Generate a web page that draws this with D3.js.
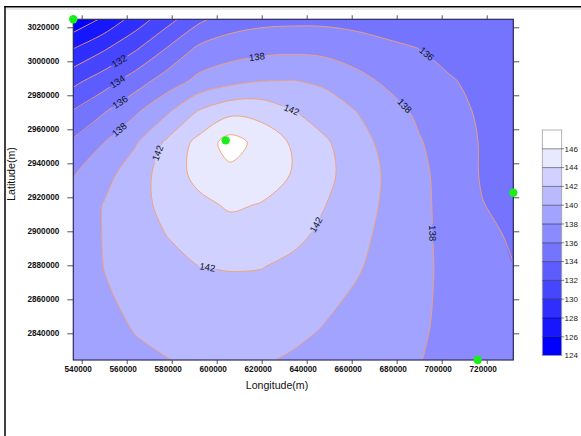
<!DOCTYPE html>
<html><head><meta charset="utf-8">
<script src="https://cdn.jsdelivr.net/npm/d3@7"></script>
<style>body{margin:0;background:#fff} svg{display:block}</style>
</head><body><svg id="c" width="581" height="436"></svg>
<script>
// ---------- data ----------
const gridLon = [536000, 550000, 564000, 578000, 592000, 606000, 620000, 634000, 648000, 662000, 676000, 690000, 704000, 718000, 732000];
const gridLat = [3025000, 3006750, 2988500, 2970250, 2952000, 2933750, 2915500, 2897250, 2879000, 2860750, 2842500, 2824250];
const gridValues = [
  [124.3, 126.3, 128.8, 131.2, 133.5, 135.0, 135.4, 135.5, 135.5, 135.3, 135.0, 134.7, 134.5, 134.4, 134.3],
  [128.1, 129.9, 131.9, 134.25, 136.5, 137.1, 137.5, 137.65, 137.5, 137.05, 136.5, 136.05, 135.4, 134.9, 134.6],
  [131.4, 133.1, 135.05, 136.95, 138.5, 139.4, 139.95, 140.05, 139.65, 138.6, 137.65, 136.9, 136.13, 135.5, 134.8],
  [134.15, 135.9, 137.75, 139.75, 142.2, 143.5, 143.35, 142.1, 141.05, 140.02, 138.8, 137.65, 136.65, 135.7, 135.0],
  [136.3, 138.02, 139.85, 142.4, 144.6, 146.9, 145.25, 143.75, 142.3, 140.8, 139.4, 138.15, 137.0, 135.85, 135.15],
  [137.85, 139.35, 141.05, 142.9, 144.6, 145.45, 144.9, 143.9, 142.5, 141.1, 139.7, 138.45, 137.15, 135.85, 135.35],
  [138.5, 140.1, 141.4, 142.5, 143.5, 144.25, 143.9, 143.0, 142.05, 140.85, 139.65, 138.5, 137.25, 136.05, 135.55],
  [138.8, 140.1, 141.05, 142.02, 143.05, 143.15, 142.9, 142.45, 141.55, 140.5, 139.5, 138.45, 137.4, 136.4, 135.8],
  [139.0, 140.03, 140.65, 141.3, 141.97, 142.1, 142.05, 141.55, 140.85, 140.2, 139.3, 138.4, 137.55, 136.75, 136.02],
  [139.0, 139.8, 140.4, 140.9, 141.25, 141.4, 141.3, 140.95, 140.4, 139.75, 139.0, 138.3, 137.6, 136.95, 136.35],
  [138.9, 139.4, 140.1, 140.55, 140.85, 140.95, 140.85, 140.5, 139.9, 139.35, 138.75, 138.2, 137.6, 137.1, 136.6],
  [138.7, 139.2, 139.6, 139.95, 140.35, 140.5, 140.2, 139.75, 139.3, 138.9, 138.45, 138.05, 137.55, 137.2, 136.85]
];
const levels = [124, 126, 128, 130, 132, 134, 136, 138, 140, 142, 144, 146];
const bandTop = 148;
const stationLon = [536270, 604000, 731820, 716000];
const stationLat = [3024700, 2953500, 2922700, 2824300];
const lonTicks = [540000, 560000, 580000, 600000, 620000, 640000, 660000, 680000, 700000, 720000];
const latTicks = [2840000, 2860000, 2880000, 2900000, 2920000, 2940000, 2960000, 2980000, 3000000, 3020000];
const labelLevels = [132, 134, 136, 138, 142, 138, 142, 136, 138, 142, 138, 142];
const labelLon = [557000, 556100, 557000, 556100, 573500, 617900, 633500, 693500, 683700, 645200, 695200, 595800];
const labelLat = [2999600, 2987800, 2976100, 2960800, 2946100, 3001900, 2972500, 3004500, 2974200, 2903100, 2898800, 2878600];
const xTitle = "Longitude(m)";
const yTitle = "Latitude(m)";

// ---------- layout ----------
const W = 581, H = 436;
const plot = {left: 73.3, right: 513.3, top: 19.3, bottom: 360};
const FONT = "'Liberation Sans', Arial, sans-serif";
const svg = d3.select("#c");
svg.append("rect").attr("width", W).attr("height", H).attr("fill", "#fff");
const defs = svg.append("defs");
defs.append("clipPath").attr("id", "plotClip").append("rect")
  .attr("x", plot.left).attr("y", plot.top)
  .attr("width", plot.right - plot.left).attr("height", plot.bottom - plot.top);
defs.append("clipPath").attr("id", "frameClip").append("rect")
  .attr("x", 6).attr("y", 8).attr("width", W).attr("height", H);

const x = d3.scaleLinear().domain(d3.extent(stationLon)).range([plot.left, plot.right]);
const y = d3.scaleLinear().domain(d3.extent(stationLat)).range([plot.bottom, plot.top]);
const fillColor = d3.scaleLinear().domain([levels[0], levels[levels.length - 1]]).range(["#0000ff", "#ffffff"]);

// ---------- contours ----------
const nx = gridLon.length, ny = gridLat.length;
const contours = d3.contours().size([nx, ny]).thresholds(levels)(gridValues.flat());
const lonStep = (gridLon[nx - 1] - gridLon[0]) / (nx - 1);
const latStep = (gridLat[ny - 1] - gridLat[0]) / (ny - 1);
const toPx = p => [x(gridLon[0] + (p[0] - 0.5) * lonStep), y(gridLat[0] + (p[1] - 0.5) * latStep)];
const closedLine = d3.line().curve(d3.curveCatmullRomClosed.alpha(0.5));
const openLine = d3.line().curve(d3.curveCatmullRom.alpha(0.5));

const gFill = svg.append("g").attr("clip-path", "url(#plotClip)");
contours.forEach(c => {
  let d = "";
  c.coordinates.forEach(poly => poly.forEach(ring => { d += closedLine(ring.slice(0, -1).map(toPx)); }));
  gFill.append("path").attr("d", d).attr("fill", fillColor(c.value)).attr("fill-rule", "evenodd");
});

// label mask
const mask = defs.append("mask").attr("id", "labelMask").attr("maskUnits", "userSpaceOnUse")
  .attr("x", 0).attr("y", 0).attr("width", W).attr("height", H);
mask.append("rect").attr("width", W).attr("height", H).attr("fill", "#fff");

const gLines = svg.append("g").attr("clip-path", "url(#plotClip)").append("g").attr("mask", "url(#labelMask)");
const isBorder = p => p[0] === 0 || p[0] === nx || p[1] === 0 || p[1] === ny;
const linePaths = [];
function addPath(d, level) {
  const node = gLines.append("path").attr("d", d).attr("fill", "none")
    .attr("stroke", "#f4a06c").attr("stroke-width", 0.9).node();
  linePaths.push({node, level});
}
contours.forEach(c => {
  if (c.value === levels[0]) return;
  c.coordinates.forEach(poly => poly.forEach(ring => {
    const pts = ring.slice(0, -1);
    const b = pts.findIndex(isBorder);
    if (b < 0) { addPath(closedLine(pts.map(toPx)), c.value); return; }
    const rot = pts.slice(b).concat(pts.slice(0, b));
    let run = [];
    rot.forEach(p => {
      if (isBorder(p)) { if (run.length > 1) addPath(openLine(run.map(toPx)), c.value); run = []; }
      else run.push(p);
    });
    if (run.length > 1) addPath(openLine(run.map(toPx)), c.value);
  }));
});

// contour labels
const gLab = svg.append("g").attr("clip-path", "url(#plotClip)");
labelLevels.forEach((lev, i) => {
  const px = x(labelLon[i]), py = y(labelLat[i]);
  let best = null;
  linePaths.filter(p => p.level === lev).forEach(({node}) => {
    const L = node.getTotalLength();
    for (let l = 0; l <= L; l += 0.5) {
      const pt = node.getPointAtLength(l);
      const dd = (pt.x - px) ** 2 + (pt.y - py) ** 2;
      if (!best || dd < best.dd) best = {dd, node, l, L, pt};
    }
  });
  let cx = px, cyy = py, ang = 0;
  if (best) {
    const a = best.node.getPointAtLength(Math.max(0, best.l - 3));
    const b = best.node.getPointAtLength(Math.min(best.L, best.l + 3));
    ang = Math.atan2(b.y - a.y, b.x - a.x) * 180 / Math.PI;
    if (ang > 90) ang -= 180;
    if (ang <= -90) ang += 180;
    cx = best.pt.x; cyy = best.pt.y;
  }
  const t = gLab.append("text").attr("transform", `translate(${cx},${cyy}) rotate(${ang})`)
    .attr("text-anchor", "middle").attr("dy", "0.35em")
    .attr("font-family", FONT).attr("font-size", 9.5).attr("fill", "#111").text(lev);
  const w = t.node().getComputedTextLength() + 3;
  mask.append("rect").attr("x", -w / 2).attr("y", -5).attr("width", w).attr("height", 10)
    .attr("transform", `translate(${cx},${cyy}) rotate(${ang})`).attr("fill", "#000");
});

// ---------- axes ----------
function styleAxis(g) {
  g.select(".domain").remove();
  g.selectAll("line").attr("stroke", "#555");
  g.selectAll("text").attr("font-family", FONT).attr("font-size", 8.2).attr("font-weight", "bold").attr("fill", "#111");
}
svg.append("g").attr("transform", `translate(${plot.left},0)`)
  .call(d3.axisLeft(y).tickValues(latTicks).tickFormat(d3.format("d")).tickSize(6).tickPadding(8)).call(styleAxis);
svg.append("g").attr("transform", `translate(${plot.right},0)`)
  .call(d3.axisRight(y).tickValues(latTicks).tickFormat("").tickSize(6)).call(styleAxis);
svg.append("g").attr("transform", `translate(0,${plot.top})`)
  .call(d3.axisTop(x).tickValues(lonTicks).tickFormat("").tickSize(4)).call(styleAxis);
svg.append("g").attr("transform", `translate(0,${plot.bottom})`)
  .call(d3.axisBottom(x).tickValues(lonTicks).tickFormat(d3.format("d")).tickSize(4).tickPadding(2.5)).call(styleAxis)
  .call(g => g.selectAll("text").attr("dx", -4));

svg.append("rect").attr("x", plot.left).attr("y", plot.top)
  .attr("width", plot.right - plot.left).attr("height", plot.bottom - plot.top)
  .attr("fill", "none").attr("stroke", "#2e2e5e").attr("stroke-width", 1.2);

svg.append("text").attr("x", 277).attr("y", 388.7).attr("text-anchor", "middle")
  .attr("font-family", FONT).attr("font-size", 10.6).attr("fill", "#111").text(xTitle);
svg.append("g").attr("clip-path", "url(#frameClip)").append("text")
  .attr("transform", "translate(15,174) rotate(-90)").attr("text-anchor", "middle")
  .attr("font-family", FONT).attr("font-size", 10.6).attr("fill", "#111").text(yTitle);

// stations
svg.append("g").selectAll("circle").data(stationLon).join("circle")
  .attr("cx", d => x(d)).attr("cy", (d, i) => y(stationLat[i])).attr("r", 4.2).attr("fill", "#1aee1a");

// ---------- colour bar ----------
const cb = {x: 542.3, w: 19.4, top: 130, bottom: 355.6};
const cyS = d3.scaleLinear().domain([levels[0], bandTop]).range([cb.bottom, cb.top]);
const gCb = svg.append("g");
levels.forEach((t, i) => {
  const t2 = i < levels.length - 1 ? levels[i + 1] : bandTop;
  gCb.append("rect").attr("x", cb.x).attr("y", cyS(t2)).attr("width", cb.w).attr("height", cyS(t) - cyS(t2))
    .attr("fill", fillColor(t));
});
gCb.append("rect").attr("x", cb.x).attr("y", cb.top).attr("width", cb.w).attr("height", cb.bottom - cb.top)
  .attr("fill", "none").attr("stroke", "#a0a0a0").attr("stroke-width", 0.8);
levels.slice(1).forEach(t => {
  gCb.append("line").attr("x1", cb.x).attr("x2", cb.x + cb.w + 2.5).attr("y1", cyS(t)).attr("y2", cyS(t))
    .attr("stroke", "#000").attr("stroke-opacity", 0.45).attr("stroke-width", 1);
});
levels.forEach(t => {
  gCb.append("text").attr("x", cb.x + cb.w + 2.8).attr("y", cyS(t)).attr("dy", "0.35em")
    .attr("font-family", FONT).attr("font-size", 8).attr("fill", "#222").text(t);
});

// ---------- outer frame ----------
svg.append("line").attr("x1", 5).attr("x2", 5).attr("y1", 6).attr("y2", H).attr("stroke", "#000").attr("stroke-width", 1.5);
svg.append("line").attr("x1", 4.3).attr("x2", W).attr("y1", 6.8).attr("y2", 6.8).attr("stroke", "#000").attr("stroke-width", 1.5);
svg.append("line").attr("x1", 5.8).attr("x2", W).attr("y1", 9).attr("y2", 9).attr("stroke", "#c8c8c8").attr("stroke-width", 0.8);
</script></body></html>
